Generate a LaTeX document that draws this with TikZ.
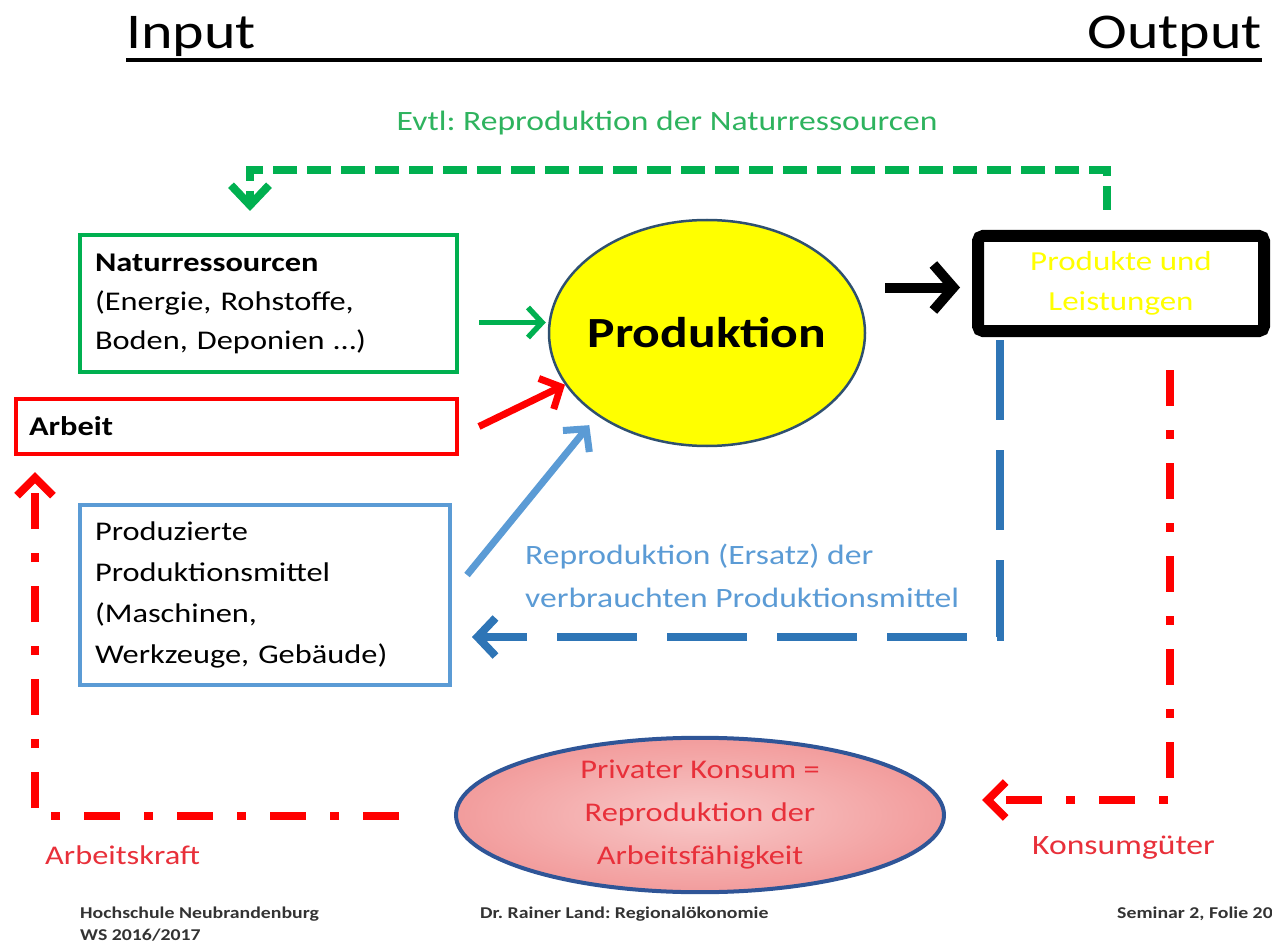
\documentclass[tikz,border=0pt]{standalone}
\usepackage{fontspec}
\setmainfont{Carlito}[FakeStretch=1.2]
\usetikzlibrary{arrows.meta,shapes.geometric}
\definecolor{grn}{HTML}{00B050}
\definecolor{grntxt}{HTML}{2EB35E}
\definecolor{rd}{HTML}{FF0000}
\definecolor{rdtxt}{HTML}{E8303A}
\definecolor{lblue}{HTML}{5B9BD5}
\definecolor{dblue}{HTML}{2E75B6}
\definecolor{ellb}{HTML}{2F5070}
\definecolor{pinkb}{HTML}{2F5597}
\definecolor{yel}{HTML}{FFFF00}
\definecolor{pinkf}{HTML}{F29C9C}
\definecolor{foot}{HTML}{333333}
\begin{document}
\frenchspacing
\begin{tikzpicture}[x=1pt,y=-1pt,
  inbox/.style={draw, line width=4pt, anchor=north west, align=left, inner xsep=15pt, inner ysep=0pt},
  gdash/.style={draw=grn, line width=8pt, dash pattern=on 24pt off 10pt, -{Straight Barb[length=20pt,width=38pt]}},
  bdash/.style={draw=dblue, line width=8pt, dash pattern=on 80pt off 30pt, -{Straight Barb[length=18pt,width=38pt]}},
  rdashdot/.style={draw=rd, line width=8pt, dash pattern=on 36pt off 24pt on 9pt off 24pt, -{Straight Barb[length=18pt,width=36pt]}},
]
\useasboundingbox (0,0) rectangle (1272,944);

% heading
\node[anchor=base west, inner sep=0, font=\fontsize{50}{60}\selectfont] (inp) at (126,49) {Input};
\node[anchor=base east, inner sep=0, font=\fontsize{50}{60}\selectfont] (outp) at (1262,49) {Output};
\draw[line width=3.5pt] (inp.base west |- 0,60) -- (outp.base east |- 0,60);

% green label
\node[text=grntxt, font=\fontsize{28}{32}\selectfont] (evtl) at (667,123) {Evtl: Reproduktion der Naturressourcen};

% boxes
\node[inbox, draw=grn, minimum width=377pt, minimum height=137pt, text width=347pt,
      font=\fontsize{27}{39}\selectfont] (nat) at (78,233)
  {\textbf{Naturressourcen}\\(Energie, Rohstoffe,\\Boden, Deponien \dots)};
\node[inbox, draw=rd, minimum width=441pt, minimum height=55pt, text width=415pt, inner xsep=13pt,
      font=\fontsize{27}{39}\selectfont] (arb) at (14,397) {\textbf{Arbeit}};
\node[inbox, draw=lblue, minimum width=370pt, minimum height=180pt, text width=340pt,
      font=\fontsize{27}{41}\selectfont] (pm) at (78,503)
  {Produzierte\\Produktionsmittel\\(Maschinen,\\Werkzeuge, Gebäude)};

% Produktion ellipse
\node[ellipse, draw=ellb, line width=2.5pt, fill=yel, minimum width=316pt, minimum height=226pt,
      inner sep=0pt, font=\fontsize{43}{48}\selectfont\bfseries] (prod) at (707,333) {\makebox[0pt]{Produktion}};

% output box
\node[draw=black, line width=12pt, rounded corners=5pt, minimum width=286pt, minimum height=95pt,
      anchor=north west, align=center, text=yel, font=\fontsize{27.5}{40}\selectfont] (out) at (972,230)
  {Produkte und\\Leistungen};

% Konsum ellipse
\node[ellipse, draw=pinkb, line width=4pt, inner color=pinkf!55, outer color=pinkf, minimum width=488pt,
      minimum height=143pt, inner sep=0pt, align=center, text=rdtxt,
      font=\fontsize{27}{43}\selectfont] (kons) at (700,815)
  {Privater Konsum =\\Reproduktion der\\Arbeitsfähigkeit};

% labels
\node[anchor=north west, align=left, text=lblue, font=\fontsize{28}{43}\selectfont, inner sep=0] (rep) at (525,544)
  {Reproduktion (Ersatz) der\\verbrauchten Produktionsmittel};
\node[anchor=base west, inner sep=0, text=rdtxt, font=\fontsize{27}{30}\selectfont] (akraft) at (45,864) {Arbeitskraft};
\node[anchor=base west, inner sep=0, text=rdtxt, font=\fontsize{28}{30}\selectfont] (kgut) at (1032,854) {Konsumgüter};

% footer
\node[anchor=base west, inner sep=0, align=left, text=foot, font=\fontsize{16.5}{22}\selectfont\bfseries] (hs) at (80,940)
  {Hochschule Neubrandenburg\\WS 2016/2017};
\node[anchor=base west, inner sep=0, text=foot, font=\fontsize{16.5}{20}\selectfont\bfseries] (dr) at (480,918)
  {Dr. Rainer Land: Regionalökonomie};
\node[anchor=base west, inner sep=0, text=foot, font=\fontsize{16.5}{20}\selectfont\bfseries] (sem) at (1117,918)
  {Seminar 2, Folie 20};

% solid input arrows
\coordinate (ga) at ([xshift=20pt,yshift=-19pt]nat.east);
\draw[grn, line width=5.5pt, -{Straight Barb[length=14pt,width=30pt]}]
  (ga) -- ([xshift=-2pt]prod.west |- ga);
\draw[rd, line width=7pt, -{Straight Barb[length=16pt,width=34pt]}]
  ([xshift=20pt]arb.east) -- (prod.200);
\draw[lblue, line width=7pt, -{Straight Barb[length=16pt,width=34pt]}]
  ([xshift=15pt,yshift=-72pt]pm.north east) -- ([xshift=-10pt,yshift=-8pt]prod.218);
\coordinate (ka) at ([xshift=-87pt,yshift=-4pt]out.west);
\draw[black, line width=10pt, -{Straight Barb[length=20pt,width=46pt]}]
  (ka) -- ([xshift=-12pt]out.west |- ka);

% feedback loops
\draw[gdash, shorten <=20pt, shorten >=22pt]
  ([xshift=-14pt]out.north) -- ++(0,-60) -| ([xshift=-18.5pt]nat.north);
\draw[bdash, shorten <=3pt, shorten >=20pt]
  ([xshift=28pt]out.south west) |- ([yshift=-42pt]pm.east);
\draw[rdashdot, shorten <=33pt, shorten >=36pt]
  ([xshift=-100pt]out.south east) |- ([yshift=15pt]kons.east);
\draw[rdashdot, shorten <=55pt, shorten >=16pt]
  ([yshift=-1pt]kons.west) -| ([xshift=21pt]arb.south west);
\end{tikzpicture}
\end{document}
